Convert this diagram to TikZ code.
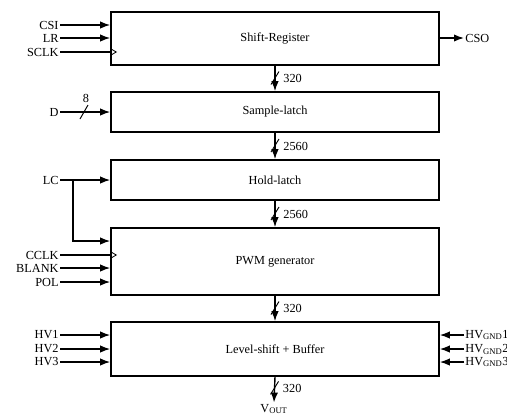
\documentclass[tikz,border=0pt]{standalone}
\usepackage{fontspec}
\setmainfont{Liberation Serif}
\usetikzlibrary{arrows.meta}

\begin{document}
\begin{tikzpicture}[x=0.03cm,y=-0.03cm,font=\fontsize{10.5}{12}\selectfont,
  blk/.style={draw,line width=1.3pt,minimum width=9.84cm,inner sep=0pt},
  sig/.style={line width=1.2pt,-{Latex[length=3mm,width=2.2mm]}},
  wire/.style={line width=1.2pt},
  lbl/.style={inner sep=1pt}]
  \useasboundingbox (0,0) rectangle (507,415);
  % blocks
  \node[blk,minimum height=1.59cm] (sreg) at (275,38.5) {Shift-Register};
  \node[blk,minimum height=1.2cm] (slatch) at (275,112) {Sample-latch};
  \node[blk,minimum height=1.2cm] (hlatch) at (275,180) {Hold-latch};
  \node[blk,minimum height=2.01cm] (pwm) at (275,261.5) {PWM generator};
  \node[blk,minimum height=1.62cm] (lsbuf) at (275,349) {Level-shift + Buffer};
  % left inputs
  \node[lbl,anchor=east] (csi) at (60,25) {CSI};
  \node[lbl,anchor=east] (lr) at (60,38) {LR};
  \node[lbl,anchor=east] (sclk) at (60,52) {SCLK};
  \draw[sig] (csi.east) -- (csi.east -| sreg.west);
  \draw[sig] (lr.east) -- (lr.east -| sreg.west);
  \draw[wire] (sclk.east) -- (sclk.east -| sreg.west);
  \draw[line width=0.7pt] (sclk.east -| sreg.west) ++(0,-3.5) -- ++(6,3.5) -- ++(-6,3.5);
  \node[lbl,anchor=east] (d) at (60,112) {D};
  \draw[sig] (d.east) -- (d.east -| slatch.west);
  \draw[line width=0.8pt] (80,119) -- (88,105);
  \node[lbl] (dw) at (86,98) {8};
  \node[lbl,anchor=east] (lc) at (60,180) {LC};
  \coordinate (br) at (73,180);
  \draw[sig] (lc.east) -- (lc.east -| hlatch.west);
  \draw[sig] (br) |- (pwm.west |- 0,241);
  \node[lbl,anchor=east] (cclk) at (60,255) {CCLK};
  \node[lbl,anchor=east] (blank) at (60,268) {BLANK};
  \node[lbl,anchor=east] (pol) at (60,282) {POL};
  \draw[wire] (cclk.east) -- (cclk.east -| pwm.west);
  \draw[line width=0.7pt] (cclk.east -| pwm.west) ++(0,-3.5) -- ++(6,3.5) -- ++(-6,3.5);
  \draw[sig] (blank.east) -- (blank.east -| pwm.west);
  \draw[sig] (pol.east) -- (pol.east -| pwm.west);
  \node[lbl,anchor=east] (hv1) at (60,335) {HV1};
  \node[lbl,anchor=east] (hv2) at (60,349) {HV2};
  \node[lbl,anchor=east] (hv3) at (60,362) {HV3};
  \foreach \n in {hv1,hv2,hv3}
    \draw[sig] (\n.east) -- (\n.east -| lsbuf.west);
  % right side
  \node[lbl,anchor=west] (cso) at (464,38) {CSO};
  \draw[sig] (sreg.east |- cso.west) -- (cso.west);
  \node[lbl,anchor=west] (gnd1) at (464,335) {HV$_{\mathrm{GND}}$1};
  \node[lbl,anchor=west] (gnd2) at (464,349) {HV$_{\mathrm{GND}}$2};
  \node[lbl,anchor=west] (gnd3) at (464,362) {HV$_{\mathrm{GND}}$3};
  \foreach \n in {gnd1,gnd2,gnd3}
    \draw[sig] (\n.west) -- (\n.west -| lsbuf.east);
  % buses
  \node[lbl] (vout) at (274,409) {V$_{\mathrm{OUT}}$};
  \draw[sig] (sreg.south) -- coordinate[midway] (m1) (slatch.north);
  \draw[sig] (slatch.south) -- coordinate[midway] (m2) (hlatch.north);
  \draw[sig] (hlatch.south) -- coordinate[midway] (m3) (pwm.north);
  \draw[sig] (pwm.south) -- coordinate[midway] (m4) (lsbuf.north);
  \draw[sig] (lsbuf.south) -- coordinate[pos=0.45] (m5) (vout.north);
  \foreach \m/\w in {m1/320,m2/2560,m3/2560,m4/320,m5/320} {
    \draw[line width=0.8pt] (\m) ++(-4,6) -- ++(8,-13);
    \node[lbl,anchor=west] at ([xshift=6pt]\m) {\w};
  }
\end{tikzpicture}
\end{document}
